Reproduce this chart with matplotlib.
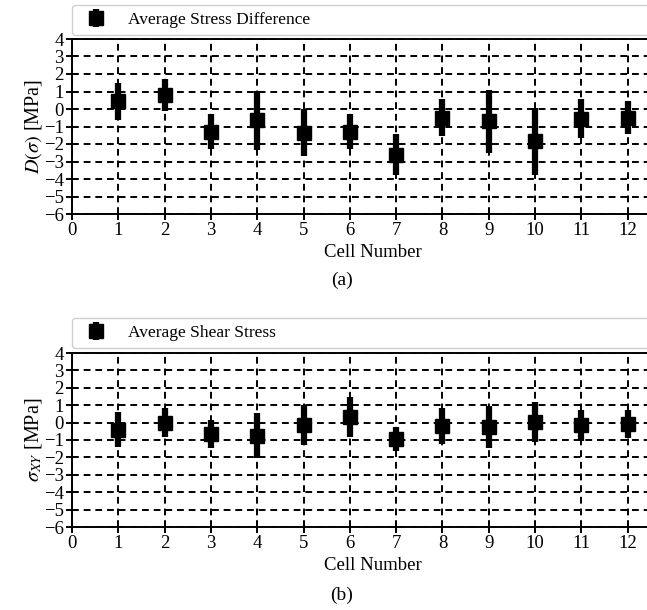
import numpy as np
import matplotlib
matplotlib.use('Agg')
import matplotlib.pyplot as plt

plt.rcParams['font.family'] = ['Liberation Serif', 'DejaVu Serif']
plt.rcParams['mathtext.fontset'] = 'stix'
plt.rcParams['font.size'] = 13.5

# Valores
celulas = np.arange(1, 13)
dif_media = [0.45, 0.8, -1.3, -0.65, -1.35, -1.3, -2.6, -0.5, -0.7, -1.85, -0.55, -0.5]
dif_erro = [1.05, 0.9, 1.0, 1.7, 1.35, 1.0, 1.15, 1.05, 1.8, 1.9, 1.1, 0.95]
cis_media = [-0.4, 0.0, -0.65, -0.75, -0.15, 0.3, -0.95, -0.2, -0.25, 0.05, -0.15, -0.1]
cis_erro = [1.0, 0.85, 0.8, 1.3, 1.15, 1.15, 0.7, 1.05, 1.2, 1.15, 0.9, 0.8]

fig = plt.figure(figsize=(6.47, 6.10), dpi=100)
W, H = 647, 610

def painel(top_px, bot_px, media, erro, rotulo, legenda, legenda_px, legenda_h):
    ax = fig.add_axes([72 / W, 1 - bot_px / H, 602 / W, (bot_px - top_px) / H])
    ax.errorbar(celulas, media, yerr=erro, fmt='s', color='black', ms=10.5,
                elinewidth=4.5, capsize=0, label=legenda, zorder=3)
    ax.set_xlim(0, 13)
    ax.set_ylim(-6, 4)
    ax.set_xticks(np.arange(0, 13))
    ax.set_yticks(np.arange(-6, 5))
    ax.grid(True, color='black', linestyle=(0, (3.5, 2.5)), linewidth=1.4)
    for s in ax.spines.values():
        s.set_linewidth(1.4)
        s.set_color('black')
    ax.tick_params(direction='inout', length=8, width=1.4, pad=2)
    ax.set_xlabel('Cell Number', labelpad=3)
    ax.set_ylabel(rotulo, labelpad=0, fontsize=14.5)
    ax.legend(loc='lower left', mode='expand', fontsize=12.5,
              bbox_to_anchor=(72 / W, 1 - (legenda_px + legenda_h) / H, 602 / W, legenda_h / H),
              bbox_transform=fig.transFigure, fancybox=True, edgecolor='#d0d0d0',
              handletextpad=0.8, borderaxespad=0, framealpha=1)
    return ax

painel(39, 214, dif_media, dif_erro, r'$D(\sigma)$ [MPa]', 'Average Stress Difference', 7, 28)
painel(353, 527, cis_media, cis_erro, r'$\sigma_{XY}$ [MPa]', 'Average Shear Stress', 320, 28)

fig.text(342 / W, 1 - 280 / H, '(a)', ha='center', va='center', fontsize=14)
fig.text(342 / W, 1 - 595 / H, '(b)', ha='center', va='center', fontsize=14)

fig.savefig('out.png', dpi=100)
